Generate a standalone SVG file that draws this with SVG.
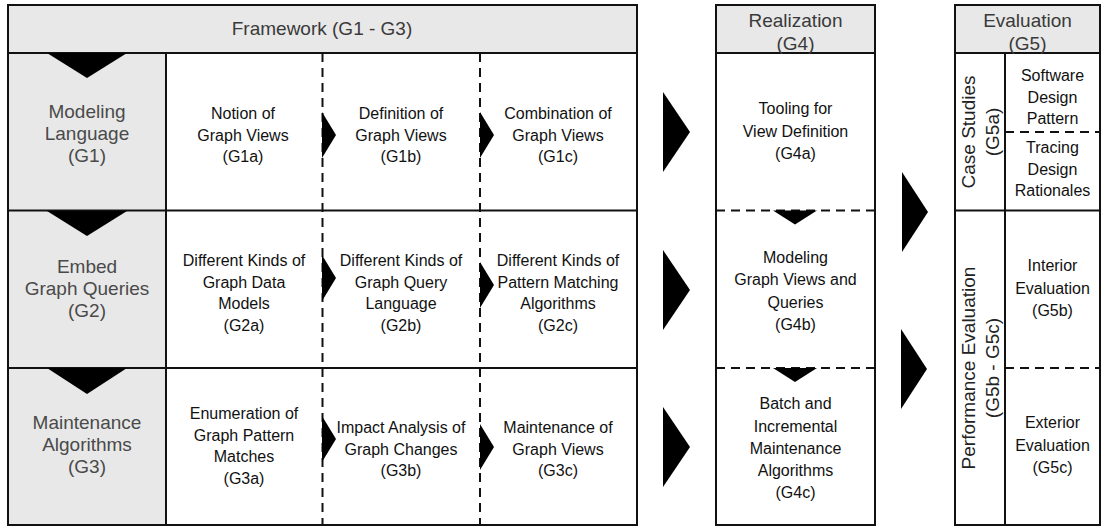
<svg xmlns="http://www.w3.org/2000/svg" width="1102" height="527" viewBox="0 0 1102 527">
  <style>
    .box { fill: #ffffff; stroke: #111; stroke-width: 2; }
    .head { fill: #e8e8e8; stroke: #111; stroke-width: 2; }
    .line { stroke: #111; stroke-width: 2; fill: none; }
    .dash { stroke: #111; stroke-width: 2; fill: none; stroke-dasharray: 9 6; }
    .tri { fill: #000; stroke: none; }
    .h { font-family: "Liberation Sans", Arial, sans-serif; font-size: 19px; fill: #3a3a3a; text-anchor: middle; }
    .g { font-family: "Liberation Sans", Arial, sans-serif; font-size: 19px; fill: #4a4a4a; text-anchor: middle; }
    .t { font-family: "Liberation Sans", Arial, sans-serif; font-size: 16px; fill: #111; text-anchor: middle; }
    .r { font-family: "Liberation Sans", Arial, sans-serif; font-size: 19px; fill: #222; text-anchor: middle; }
  </style>

  <!-- Framework block -->
  <g id="framework">
    <rect class="box" x="8" y="5" width="629" height="520"/>
    <rect class="head" x="8" y="5" width="629" height="48"/>
    <text class="h" x="322" y="35">Framework (G1 - G3)</text>
    <rect class="head" x="8" y="53" width="158" height="472"/>
    <line class="line" x1="8" y1="210.5" x2="637" y2="210.5"/>
    <line class="line" x1="8" y1="368" x2="637" y2="368"/>
    <line class="dash" x1="322.5" y1="53" x2="322.5" y2="525"/>
    <line class="dash" x1="480" y1="53" x2="480" y2="525"/>
  </g>

  <!-- Goal rows -->
  <g id="g1">
    <polygon class="tri" points="47,53 127,53 87,78"/>
    <text class="g" x="87"><tspan x="87" y="118">Modeling</tspan><tspan x="87" y="140">Language</tspan><tspan x="87" y="162">(G1)</tspan></text>
  </g>
  <g id="g2">
    <polygon class="tri" points="47,211 127,211 87,236"/>
    <text class="g" x="87"><tspan x="87" y="273">Embed</tspan><tspan x="87" y="295">Graph Queries</tspan><tspan x="87" y="317">(G2)</tspan></text>
  </g>
  <g id="g3">
    <polygon class="tri" points="47,368 127,368 87,394"/>
    <text class="g" x="87"><tspan x="87" y="429">Maintenance</tspan><tspan x="87" y="451">Algorithms</tspan><tspan x="87" y="473">(G3)</tspan></text>
  </g>

  <g id="g1a"><text class="t"><tspan x="243" y="119">Notion of</tspan><tspan x="243" y="140.5">Graph Views</tspan><tspan x="243" y="162">(G1a)</tspan></text></g>
  <g id="g1b"><text class="t"><tspan x="401" y="119">Definition of</tspan><tspan x="401" y="140.5">Graph Views</tspan><tspan x="401" y="162">(G1b)</tspan></text></g>
  <g id="g1c"><text class="t"><tspan x="558" y="119">Combination of</tspan><tspan x="558" y="140.5">Graph Views</tspan><tspan x="558" y="162">(G1c)</tspan></text></g>

  <g id="g2a"><text class="t"><tspan x="244" y="266">Different Kinds of</tspan><tspan x="244" y="287.5">Graph Data</tspan><tspan x="244" y="309">Models</tspan><tspan x="244" y="330.5">(G2a)</tspan></text></g>
  <g id="g2b"><text class="t"><tspan x="401" y="266">Different Kinds of</tspan><tspan x="401" y="287.5">Graph Query</tspan><tspan x="401" y="309">Language</tspan><tspan x="401" y="330.5">(G2b)</tspan></text></g>
  <g id="g2c"><text class="t"><tspan x="558" y="266">Different Kinds of</tspan><tspan x="558" y="287.5">Pattern Matching</tspan><tspan x="558" y="309">Algorithms</tspan><tspan x="558" y="330.5">(G2c)</tspan></text></g>

  <g id="g3a"><text class="t"><tspan x="244" y="419">Enumeration of</tspan><tspan x="244" y="440.5">Graph Pattern</tspan><tspan x="244" y="462">Matches</tspan><tspan x="244" y="483.5">(G3a)</tspan></text></g>
  <g id="g3b"><text class="t"><tspan x="401" y="433">Impact Analysis of</tspan><tspan x="401" y="454.5">Graph Changes</tspan><tspan x="401" y="476">(G3b)</tspan></text></g>
  <g id="g3c"><text class="t"><tspan x="558" y="433">Maintenance of</tspan><tspan x="558" y="454.5">Graph Views</tspan><tspan x="558" y="476">(G3c)</tspan></text></g>

  <!-- Realization block -->
  <g id="realization">
    <rect class="box" x="716" y="5" width="159" height="520"/>
    <rect class="head" x="716" y="5" width="159" height="48"/>
    <text class="h"><tspan x="795.5" y="27">Realization</tspan><tspan x="795.5" y="50">(G4)</tspan></text>
    <line class="dash" x1="716" y1="210.5" x2="875" y2="210.5" stroke-dasharray="10 6"/>
    <line class="dash" x1="716" y1="368" x2="875" y2="368" stroke-dasharray="10 6"/>
  </g>
  <g id="g4a"><text class="t"><tspan x="795.5" y="114">Tooling for</tspan><tspan x="795.5" y="136.5">View Definition</tspan><tspan x="795.5" y="159">(G4a)</tspan></text></g>
  <g id="g4b"><text class="t"><tspan x="795.5" y="263">Modeling</tspan><tspan x="795.5" y="285">Graph Views and</tspan><tspan x="795.5" y="307.5">Queries</tspan><tspan x="795.5" y="330">(G4b)</tspan></text></g>
  <g id="g4c"><text class="t"><tspan x="795.5" y="409">Batch and</tspan><tspan x="795.5" y="431.5">Incremental</tspan><tspan x="795.5" y="453.5">Maintenance</tspan><tspan x="795.5" y="475.5">Algorithms</tspan><tspan x="795.5" y="498">(G4c)</tspan></text></g>

  <!-- Evaluation block -->
  <g id="evaluation">
    <rect class="box" x="955" y="5" width="145" height="520"/>
    <rect class="head" x="955" y="5" width="145" height="48"/>
    <text class="h"><tspan x="1027.5" y="27">Evaluation</tspan><tspan x="1027.5" y="50">(G5)</tspan></text>
    <line class="line" x1="1005" y1="53" x2="1005" y2="525"/>
    <line class="line" x1="955" y1="210.5" x2="1100" y2="210.5"/>
    <line class="dash" x1="1005" y1="132" x2="1100" y2="132" stroke-dasharray="10 6"/>
    <line class="dash" x1="1005" y1="368" x2="1100" y2="368" stroke-dasharray="10 6"/>
  </g>
  <g id="g5a">
    <text class="r" transform="translate(975,132) rotate(-90)" x="0" y="0">Case Studies</text>
    <text class="r" transform="translate(999,132) rotate(-90)" x="0" y="0">(G5a)</text>
  </g>
  <g id="g5a-sdp"><text class="t"><tspan x="1052.5" y="81">Software</tspan><tspan x="1052.5" y="102.5">Design</tspan><tspan x="1052.5" y="124">Pattern</tspan></text></g>
  <g id="g5a-tdr"><text class="t"><tspan x="1052.5" y="153">Tracing</tspan><tspan x="1052.5" y="174.5">Design</tspan><tspan x="1052.5" y="196">Rationales</tspan></text></g>
  <g id="g5bc">
    <text class="r" transform="translate(975,368) rotate(-90)" x="0" y="0">Performance Evaluation</text>
    <text class="r" transform="translate(999,368) rotate(-90)" x="0" y="0">(G5b - G5c)</text>
  </g>
  <g id="g5b"><text class="t"><tspan x="1052.5" y="271">Interior</tspan><tspan x="1052.5" y="293.5">Evaluation</tspan><tspan x="1052.5" y="316">(G5b)</tspan></text></g>
  <g id="g5c"><text class="t"><tspan x="1052.5" y="428">Exterior</tspan><tspan x="1052.5" y="450.5">Evaluation</tspan><tspan x="1052.5" y="473">(G5c)</tspan></text></g>

  <!-- Flow arrows -->
  <g id="connectors">
    <!-- within framework rows -->
    <polygon class="tri" points="322,112 336,135 322,158"/>
    <polygon class="tri" points="480,112 494,135 480,158"/>
    <polygon class="tri" points="322,255 336,278 322,301"/>
    <polygon class="tri" points="480,262 494,285 480,308"/>
    <polygon class="tri" points="322,416 336,439 322,462"/>
    <polygon class="tri" points="480,424 494,447 480,470"/>
    <!-- framework to realization -->
    <polygon class="tri" points="663,92 690,132 663,172"/>
    <polygon class="tri" points="663,250 690,290 663,330"/>
    <polygon class="tri" points="663,407 690,447 663,487"/>
    <!-- within realization -->
    <polygon class="tri" points="773,210.5 817,210.5 795,224.5"/>
    <polygon class="tri" points="773,368 817,368 795,382"/>
    <!-- realization to evaluation -->
    <polygon class="tri" points="902,172 928,212 902,252"/>
    <polygon class="tri" points="901,329 927,369 901,409"/>
  </g>
</svg>
